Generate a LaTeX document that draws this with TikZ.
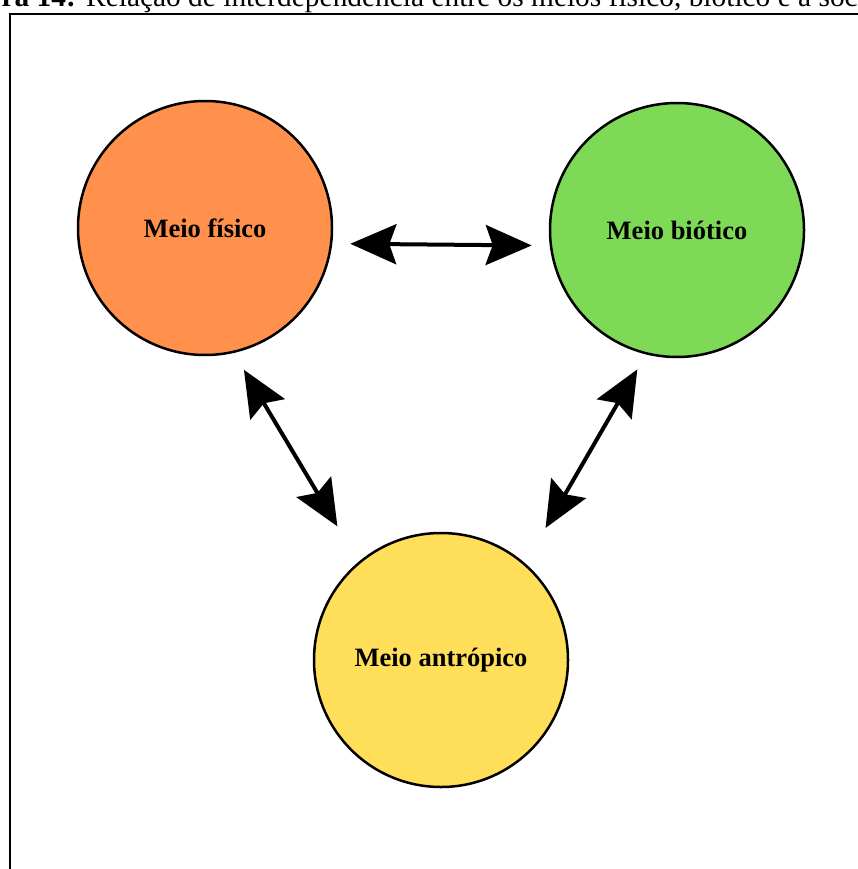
\documentclass[tikz,border=0pt]{standalone}
\usepackage{fontspec}
\setmainfont{Liberation Serif}
\usetikzlibrary{arrows.meta}

\definecolor{laranja}{HTML}{FF914D}
\definecolor{verde}{HTML}{7ED957}
\definecolor{amarelo}{HTML}{FFDE59}

\tikzset{
	meio/.style={draw, circle, line width=2.5pt, minimum size=254pt, inner sep=0pt,
		font=\bfseries\fontsize{26.5}{30}\selectfont},
	dupla/.style={line width=4pt,
		{Stealth[length=46pt,width=40pt,inset=7pt]}-{Stealth[length=46pt,width=40pt,inset=7pt]}}
}

\begin{document}
\begin{tikzpicture}[x=1pt,y=-1pt]
			\useasboundingbox (0,0) rectangle (858,869);
			\clip (0,0) rectangle (858,869);

			% legenda cortada e moldura
			\node	(figura) at (76,7) [anchor=base east, inner sep=0pt, font=\bfseries\fontsize{29.4}{32}\selectfont] {ra 14:};
			\node	(legenda) at (86,7) [anchor=base west, inner sep=0pt, font=\fontsize{29.4}{32}\selectfont] {Relação de interdependência entre os meios físico, biótico e a soc};
			\draw[line width=1.5pt] (10,869) -- (10,14) -- (858,14);

			\node	(fisico) at (205,228) [meio, fill=laranja] {Meio físico};
			\node	(biotico) at (677,230) [meio, fill=verde] {Meio biótico};
			\node	(antropico) at (441,660) [meio, fill=amarelo] {Meio antrópico};

			\draw
			(fisico.-7.6) edge[dupla, shorten <=18pt, shorten >=18pt] (biotico.-173.3)
			(fisico.-77.9) edge[dupla, shorten <=19.6pt, shorten >=41.2pt] (antropico.130.2)
			(biotico.-104.2) edge[dupla, shorten <=17.3pt, shorten >=40.7pt] (antropico.49.9)
			;
		\end{tikzpicture}
\end{document}
